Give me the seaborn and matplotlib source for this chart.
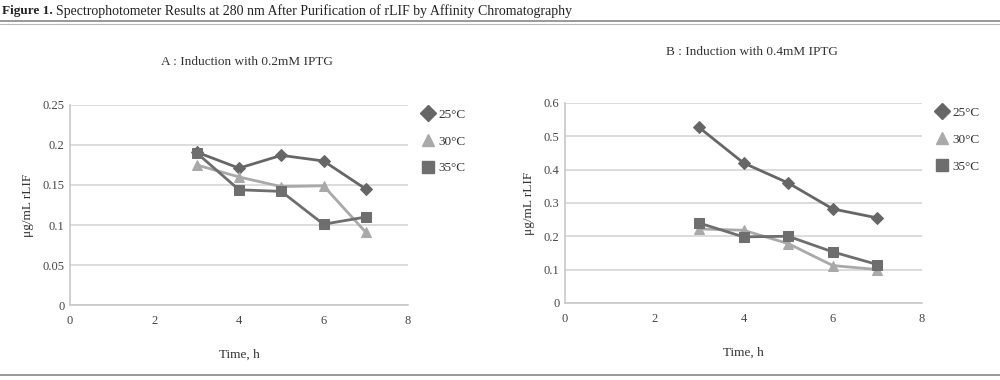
import numpy as np
import pandas as pd
import matplotlib
matplotlib.use("Agg")
import matplotlib.pyplot as plt
from matplotlib.lines import Line2D
from matplotlib.ticker import FuncFormatter
import seaborn as sns

# ---- data ----
times = [3, 4, 5, 6, 7]
temps = ["25°C", "30°C", "35°C"]
a_25 = [0.191, 0.171, 0.187, 0.180, 0.145]
a_30 = [0.175, 0.160, 0.148, 0.149, 0.091]
a_35 = [0.190, 0.144, 0.142, 0.101, 0.110]
b_25 = [0.527, 0.420, 0.360, 0.282, 0.255]
b_30 = [0.222, 0.218, 0.178, 0.112, 0.100]
b_35 = [0.240, 0.198, 0.200, 0.153, 0.115]
titles = ["A : Induction with 0.2mM IPTG", "B : Induction with 0.4mM IPTG"]
fig_title_bold = "Figure 1."
fig_title_rest = "Spectrophotometer Results at 280 nm After Purification of rLIF by Affinity Chromatography"


def long_df(s25, s30, s35):
    rows = []
    for name, vals in zip(temps, [s25, s30, s35]):
        for t, v in zip(times, vals):
            rows.append({"Time": t, "Value": v, "Temp": name})
    return pd.DataFrame(rows)


dfA = long_df(a_25, a_30, a_35)
dfB = long_df(b_25, b_30, b_35)

sns.set_theme(style="white")
plt.rcParams["font.family"] = ["Liberation Serif", "DejaVu Serif"]

palette = {"25°C": "#666666", "30°C": "#a9a9a9", "35°C": "#6e6e6e"}
markers = {"25°C": "D", "30°C": "^", "35°C": "s"}
msizes = {"25°C": 6, "30°C": 7, "35°C": 7}

fig = plt.figure(figsize=(10, 3.8), dpi=100)

axA = fig.add_axes([0.070, 0.197, 0.338, 0.527])
axB = fig.add_axes([0.565, 0.203, 0.357, 0.526])

fmt = FuncFormatter(lambda v, p: ("%g" % round(v, 3)))

for ax, df, ylim, yticks, title, tx, ty in [
    (axA, dfA, 0.25, [0, 0.05, 0.1, 0.15, 0.2, 0.25], titles[0], 0.247, 0.838),
    (axB, dfB, 0.6, [0, 0.1, 0.2, 0.3, 0.4, 0.5, 0.6], titles[1], 0.752, 0.862),
]:
    for temp in temps:
        sub = df[df["Temp"] == temp]
        sns.lineplot(data=sub, x="Time", y="Value", ax=ax, color=palette[temp],
                     marker=markers[temp], markersize=msizes[temp],
                     markeredgecolor=palette[temp], linewidth=2, legend=False,
                     zorder=3)
    ax.set_xlim(0, 8)
    ax.set_ylim(0, ylim)
    ax.set_xticks([0, 2, 4, 6, 8])
    ax.set_yticks(yticks)
    ax.yaxis.set_major_formatter(fmt)
    ax.grid(axis="y", color="#d6d6d6", linewidth=1.2)
    ax.set_axisbelow(True)
    for s in ["top", "right"]:
        ax.spines[s].set_visible(False)
    for s in ["left", "bottom"]:
        ax.spines[s].set_color("#c8c8c8")
        ax.spines[s].set_linewidth(1.2)
    ax.tick_params(axis="both", labelsize=9, colors="#444444", length=3,
                   color="#c8c8c8", direction="out", pad=4)
    ax.tick_params(axis="y", length=0)
    ax.set_xlabel("Time, h", fontsize=9.5, color="#333333", labelpad=16)
    ax.set_ylabel("μg/mL rLIF", fontsize=9.5, color="#333333", labelpad=6)
    fig.text(tx, ty, title, ha="center", va="center", fontsize=9.5, color="#333333")
    handles = [Line2D([], [], linestyle="none", marker=markers[t], color=palette[t],
                      markersize=msizes[t] + 2) for t in temps]
    leg = ax.legend(handles, temps, loc="upper left", bbox_to_anchor=(1.005, 1.04),
                    frameon=False, fontsize=9.5, handletextpad=0.3, labelspacing=1.1,
                    handlelength=1.0)
    for t in leg.get_texts():
        t.set_color("#333333")

# figure header
tb = fig.text(0.002, 0.972, fig_title_bold, ha="left", va="center", fontsize=9.5,
              fontweight="bold", color="#222222")
fig.canvas.draw()
bb = tb.get_window_extent(renderer=fig.canvas.get_renderer())
x_rest = (bb.x1 + 3) / fig.bbox.width
fig.text(x_rest, 0.972, fig_title_rest, ha="left", va="center", fontsize=10,
         color="#222222")
fig.add_artist(Line2D([0, 1], [0.945, 0.945], color="#888888", linewidth=1.2,
                      transform=fig.transFigure))
fig.add_artist(Line2D([0, 1], [0.937, 0.937], color="#bbbbbb", linewidth=0.8,
                      transform=fig.transFigure))
fig.add_artist(Line2D([0, 1], [0.013, 0.013], color="#888888", linewidth=1.2,
                      transform=fig.transFigure))

fig.savefig("out.png", dpi=100, facecolor="white")
